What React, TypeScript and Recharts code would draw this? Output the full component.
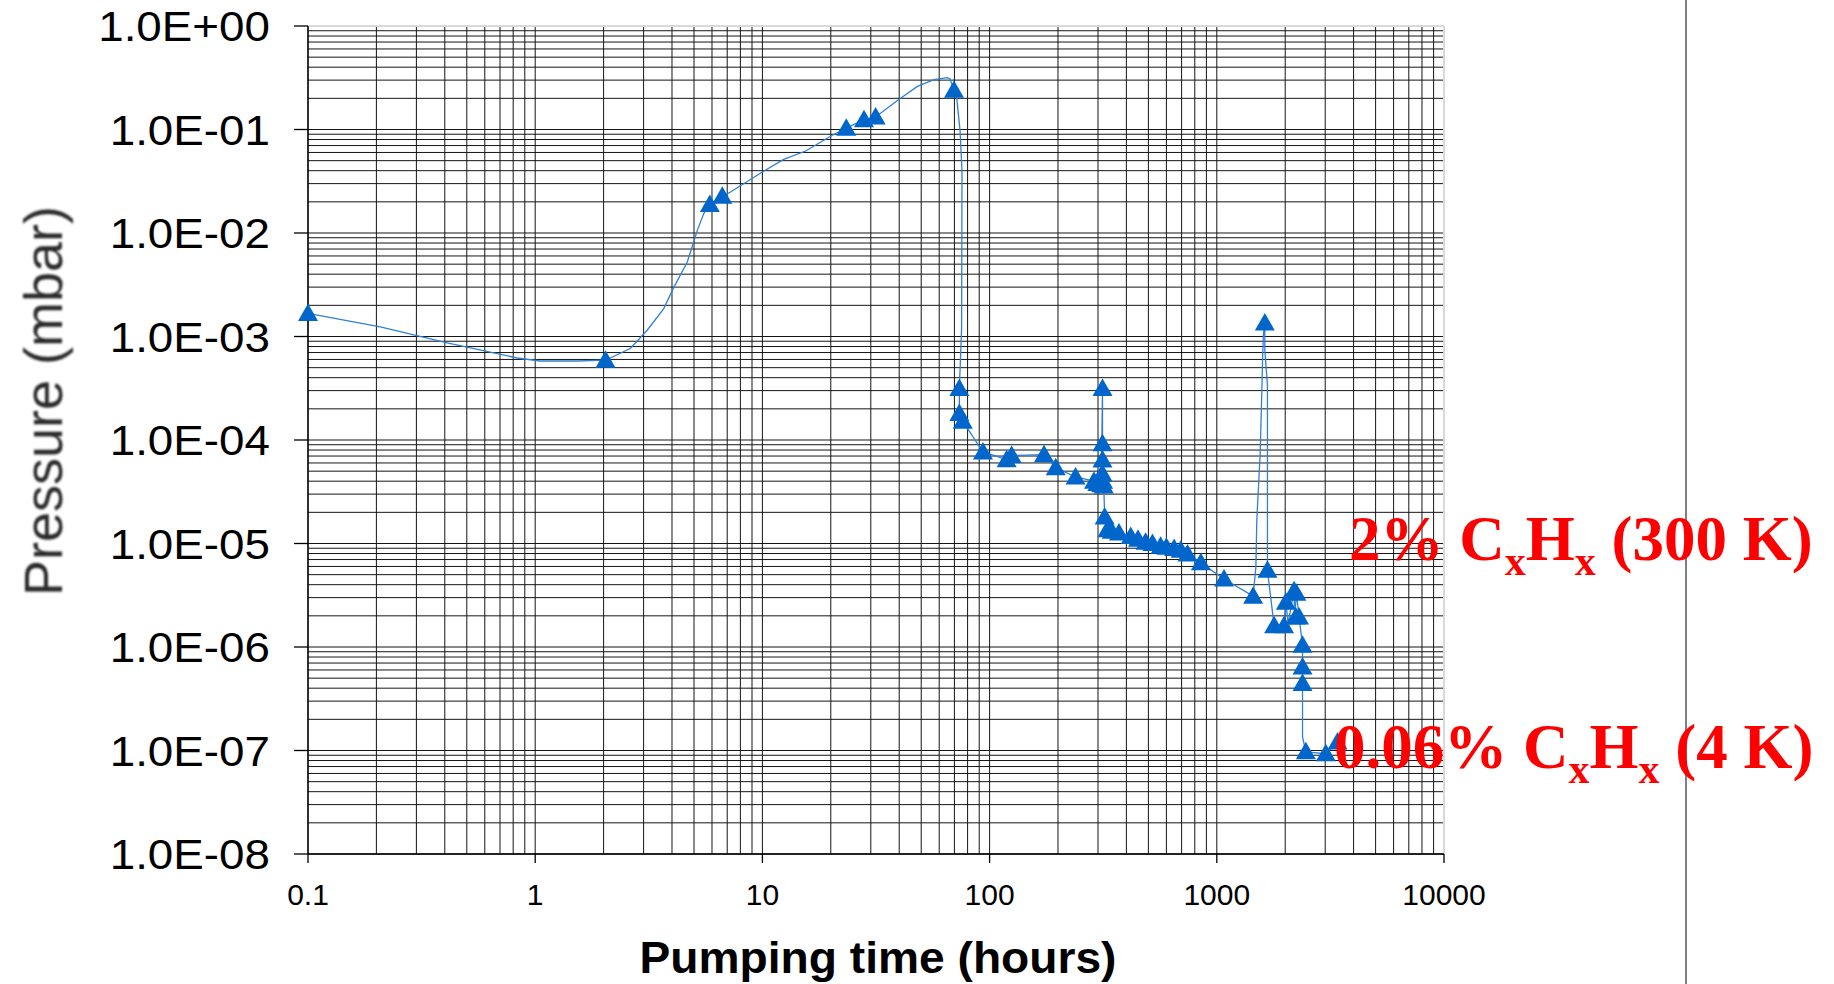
import React from 'react';
import {
  ComposedChart,
  Line,
  Scatter,
  XAxis,
  YAxis,
  CartesianGrid,
  ReferenceLine,
} from 'recharts';

const W = 1834;
const H = 984;

// Axis decades and their printed labels
const timeTicks = [0.1, 1, 10, 100, 1000, 10000];
const timeTickLabels = ['0.1', '1', '10', '100', '1000', '10000'];
const pressureTicks = [1e-8, 1e-7, 1e-6, 1e-5, 1e-4, 1e-3, 1e-2, 1e-1, 1];
const pressureTickLabels = [
  '1.0E-08', '1.0E-07', '1.0E-06', '1.0E-05', '1.0E-04',
  '1.0E-03', '1.0E-02', '1.0E-01', '1.0E+00',
];

// Measured pressure readings (hours, mbar) shown with triangle markers
const markerPoints: [number, number][] = [
  [0.1, 1.67e-3], [2.04, 5.9e-4], [5.87, 1.89e-2], [6.66, 2.26e-2],
  [23.4, 0.103], [28.0, 0.1245], [31.5, 0.132], [69.7, 0.239],
  [73.6, 3.14e-4], [73.6, 1.8e-4], [76.2, 1.52e-4], [93.5, 7.66e-5],
  [118.9, 6.46e-5], [125, 7.1e-5], [173.6, 7.22e-5], [195.5, 5.4e-5],
  [239, 4.39e-5], [288, 4.0e-5], [298, 3.8e-5], [305, 4.3e-5], [310, 3.7e-5],
  [314, 3.14e-4], [314, 9.2e-5], [314, 6.4e-5], [314, 4.7e-5],
  [316, 4.0e-5], [318, 3.6e-5], [321, 1.8e-5], [330, 1.36e-5],
  [345, 1.31e-5], [371, 1.26e-5], [418, 1.17e-5], [450, 1.1e-5],
  [486, 1.03e-5], [521, 1.0e-5], [566, 9.4e-6], [600, 9.2e-6],
  [649, 8.93e-6], [694, 8.6e-6], [743, 7.9e-6], [851, 6.5e-6],
  [1076, 4.54e-6], [1445, 3.1e-6], [1627, 1.35e-3], [1671, 5.5e-6],
  [1788, 1.6e-6], [1977, 1.6e-6], [2014, 2.7e-6], [2188, 3.5e-6],
  [2228, 1.95e-6], [2240, 3.3e-6], [2302, 1.95e-6],
  [2384, 1.04e-6], [2384, 6.4e-7], [2384, 4.43e-7],
  [2466, 9.7e-8], [3019, 9.3e-8], [3400, 1.21e-7],
];

// Continuous gauge trace (hours, mbar)
const tracePoints: [number, number][] = [
  [0.1, 1.67e-3], [0.208, 1.24e-3], [0.41, 8.7e-4], [0.833, 6.2e-4],
  [1.05, 5.8e-4], [1.53, 5.8e-4], [2.04, 5.9e-4], [2.63, 7.7e-4],
  [3.11, 1.15e-3], [3.68, 1.86e-3], [4.08, 3.0e-3], [4.67, 5.25e-3],
  [5.17, 1.06e-2], [5.52, 1.54e-2], [5.87, 1.89e-2], [6.66, 2.26e-2],
  [7.24, 2.49e-2], [10.0, 3.88e-2], [12.4, 5.15e-2], [15.5, 6.2e-2],
  [20.3, 8.8e-2], [23.4, 0.103], [28.0, 0.1245], [31.5, 0.132],
  [39.3, 0.191], [48.1, 0.261], [56.9, 0.303], [65.2, 0.317],
  [66.9, 0.31], [69.7, 0.239], [71.6, 0.206], [74.1, 0.098],
  [75.6, 0.04], [75.3, 1.2e-3], [73.6, 3.14e-4], [73.6, 1.8e-4],
  [76.2, 1.52e-4], [93.5, 7.66e-5], [118.9, 6.46e-5], [125, 7.1e-5],
  [173.6, 7.22e-5], [195.5, 5.4e-5], [239, 4.39e-5], [288, 4.0e-5],
  [298, 3.8e-5], [310, 3.7e-5], [314, 3.14e-4], [314, 9.2e-5],
  [314, 6.4e-5], [314, 4.7e-5], [316, 4.0e-5], [318, 3.6e-5],
  [321, 1.8e-5], [330, 1.36e-5], [345, 1.31e-5], [371, 1.26e-5],
  [418, 1.17e-5], [450, 1.1e-5], [486, 1.03e-5], [521, 1.0e-5],
  [566, 9.4e-6], [600, 9.2e-6], [649, 8.93e-6], [694, 8.6e-6],
  [743, 7.9e-6], [851, 6.5e-6], [1076, 4.54e-6], [1445, 3.1e-6],
  [1486, 5.9e-6], [1500, 1.68e-5], [1552, 7.4e-5], [1583, 3.77e-4],
  [1590, 6.1e-4], [1605, 1.07e-3], [1627, 1.35e-3], [1627, 7.4e-4],
  [1671, 3.37e-4], [1671, 5.5e-6], [1788, 1.6e-6], [1977, 1.6e-6],
  [2014, 2.7e-6], [2060, 1.7e-6], [2188, 3.5e-6], [2200, 1.9e-6],
  [2240, 3.3e-6], [2302, 1.95e-6], [2384, 1.04e-6], [2384, 6.4e-7],
  [2384, 4.43e-7], [2384, 1.35e-7], [2466, 9.7e-8], [3019, 9.3e-8],
  [3400, 1.21e-7],
];

const markerData = markerPoints.map(([t, p]) => ({ t, p }));
const traceData = tracePoints.map(([t, p]) => ({ t, p }));

// Log-paper grid: every 1..9 multiple within each decade
const withMinors = (decades: number[]) => {
  const out: number[] = [];
  for (let i = 0; i < decades.length - 1; i++) {
    for (let m = 1; m <= 9; m++) out.push(decades[i] * m);
  }
  out.push(decades[decades.length - 1]);
  return out;
};
const timeGrid = withMinors(timeTicks);
const pressureGrid = withMinors(pressureTicks);

const majorIndex = (list: number[], v: number) =>
  list.findIndex((d) => Math.abs(d - v) / d < 1e-6);

const SANS = '"Liberation Sans", Arial, Helvetica, sans-serif';
const SERIF = '"Liberation Serif", "Times New Roman", Times, serif';

const renderTimeTick = (props: any) => {
  const { x, y, payload } = props;
  const i = majorIndex(timeTicks, payload.value);
  if (i < 0) return <g />;
  return (
    <g>
      <line x1={x} x2={x} y1={y - 9} y2={y} stroke="#000" strokeWidth={1.3} />
      <text x={x} y={y + 42} textAnchor="middle" fontFamily={SANS} fontSize={30} fill="#000">
        {timeTickLabels[i]}
      </text>
    </g>
  );
};

const renderPressureTick = (props: any) => {
  const { x, y, payload } = props;
  const i = majorIndex(pressureTicks, payload.value);
  if (i < 0) return <g />;
  return (
    <g>
      <line x1={x + 24} x2={x + 38} y1={y} y2={y} stroke="#000" strokeWidth={1.3} />
      <text
        transform={`translate(${x},${y + 15}) scale(1.09,1)`}
        textAnchor="end"
        fontFamily={SANS}
        fontSize={42}
        fill="#000"
      >
        {pressureTickLabels[i]}
      </text>
    </g>
  );
};

const renderTriangle = (props: any) => {
  const { cx, cy } = props;
  if (cx == null || cy == null) return <g />;
  return (
    <polygon
      points={`${cx},${cy - 10} ${cx + 10},${cy + 7.5} ${cx - 10},${cy + 7.5}`}
      fill="#0066CC"
    />
  );
};

export default function App() {
  return (
    <div style={{ position: 'absolute', left: 0, top: 0, width: W, height: H, background: '#fff' }}>
      <ComposedChart width={W} height={H} margin={{ top: 26, right: 390, bottom: 70, left: 0 }}>
        <CartesianGrid stroke="#151515" strokeWidth={1} />
        <XAxis
          type="number"
          dataKey="t"
          scale="log"
          domain={[0.1, 10000]}
          ticks={timeGrid}
          interval={0}
          tick={renderTimeTick}
          tickLine={false}
          tickSize={9}
          tickMargin={0}
          height={60}
          axisLine={{ stroke: '#000', strokeWidth: 1.3 }}
        />
        <YAxis
          type="number"
          dataKey="p"
          scale="log"
          domain={[1e-8, 1]}
          ticks={pressureGrid}
          interval={0}
          tick={renderPressureTick}
          tickLine={false}
          tickSize={14}
          tickMargin={24}
          width={308}
          axisLine={{ stroke: '#000', strokeWidth: 1.3 }}
        />
        <ReferenceLine y={1} stroke="#d9d9d9" strokeWidth={2} />
        <ReferenceLine x={10000} stroke="#d9d9d9" strokeWidth={2} />
        <Line
          data={traceData}
          dataKey="p"
          type="linear"
          stroke="#2f80d8"
          strokeWidth={1.3}
          dot={false}
          activeDot={false}
          isAnimationActive={false}
        />
        <Scatter
          data={markerData}
          dataKey="p"
          fill="#0066CC"
          shape={renderTriangle}
          isAnimationActive={false}
        />
      </ComposedChart>
      <svg
        width={W}
        height={H}
        style={{ position: 'absolute', left: 0, top: 0, pointerEvents: 'none' }}
      >
        <defs>
          <filter id="soft" x="-10%" y="-10%" width="120%" height="120%">
            <feGaussianBlur stdDeviation="0.9" />
          </filter>
        </defs>
        <line x1={1686} x2={1686} y1={0} y2={H} stroke="#555" strokeWidth={1.5} />
        <text
          x={62}
          y={401}
          transform="rotate(-90, 62, 401)"
          textAnchor="middle"
          fontFamily={SANS}
          fontSize={54}
          fill="#2a2a2a"
          filter="url(#soft)"
        >
          Pressure (mbar)
        </text>
        <text
          x={878}
          y={973}
          textAnchor="middle"
          fontFamily={SANS}
          fontWeight="bold"
          fontSize={44}
          fill="#000"
          textLength={477}
          lengthAdjust="spacingAndGlyphs"
        >
          Pumping time (hours)
        </text>
        <text x={1349} y={560} fontFamily={SERIF} fontWeight="bold" fontSize={63} fill="#FF0000">
          2% C<tspan fontSize={42} dy={15}>x</tspan>
          <tspan dy={-15}>H</tspan>
          <tspan fontSize={42} dy={15}>x</tspan>
          <tspan dy={-15}> (300 K)</tspan>
        </text>
        <text x={1334} y={768} fontFamily={SERIF} fontWeight="bold" fontSize={63} fill="#FF0000">
          0.06% C<tspan fontSize={42} dy={15}>x</tspan>
          <tspan dy={-15}>H</tspan>
          <tspan fontSize={42} dy={15}>x</tspan>
          <tspan dy={-15}> (4 K)</tspan>
        </text>
      </svg>
    </div>
  );
}
